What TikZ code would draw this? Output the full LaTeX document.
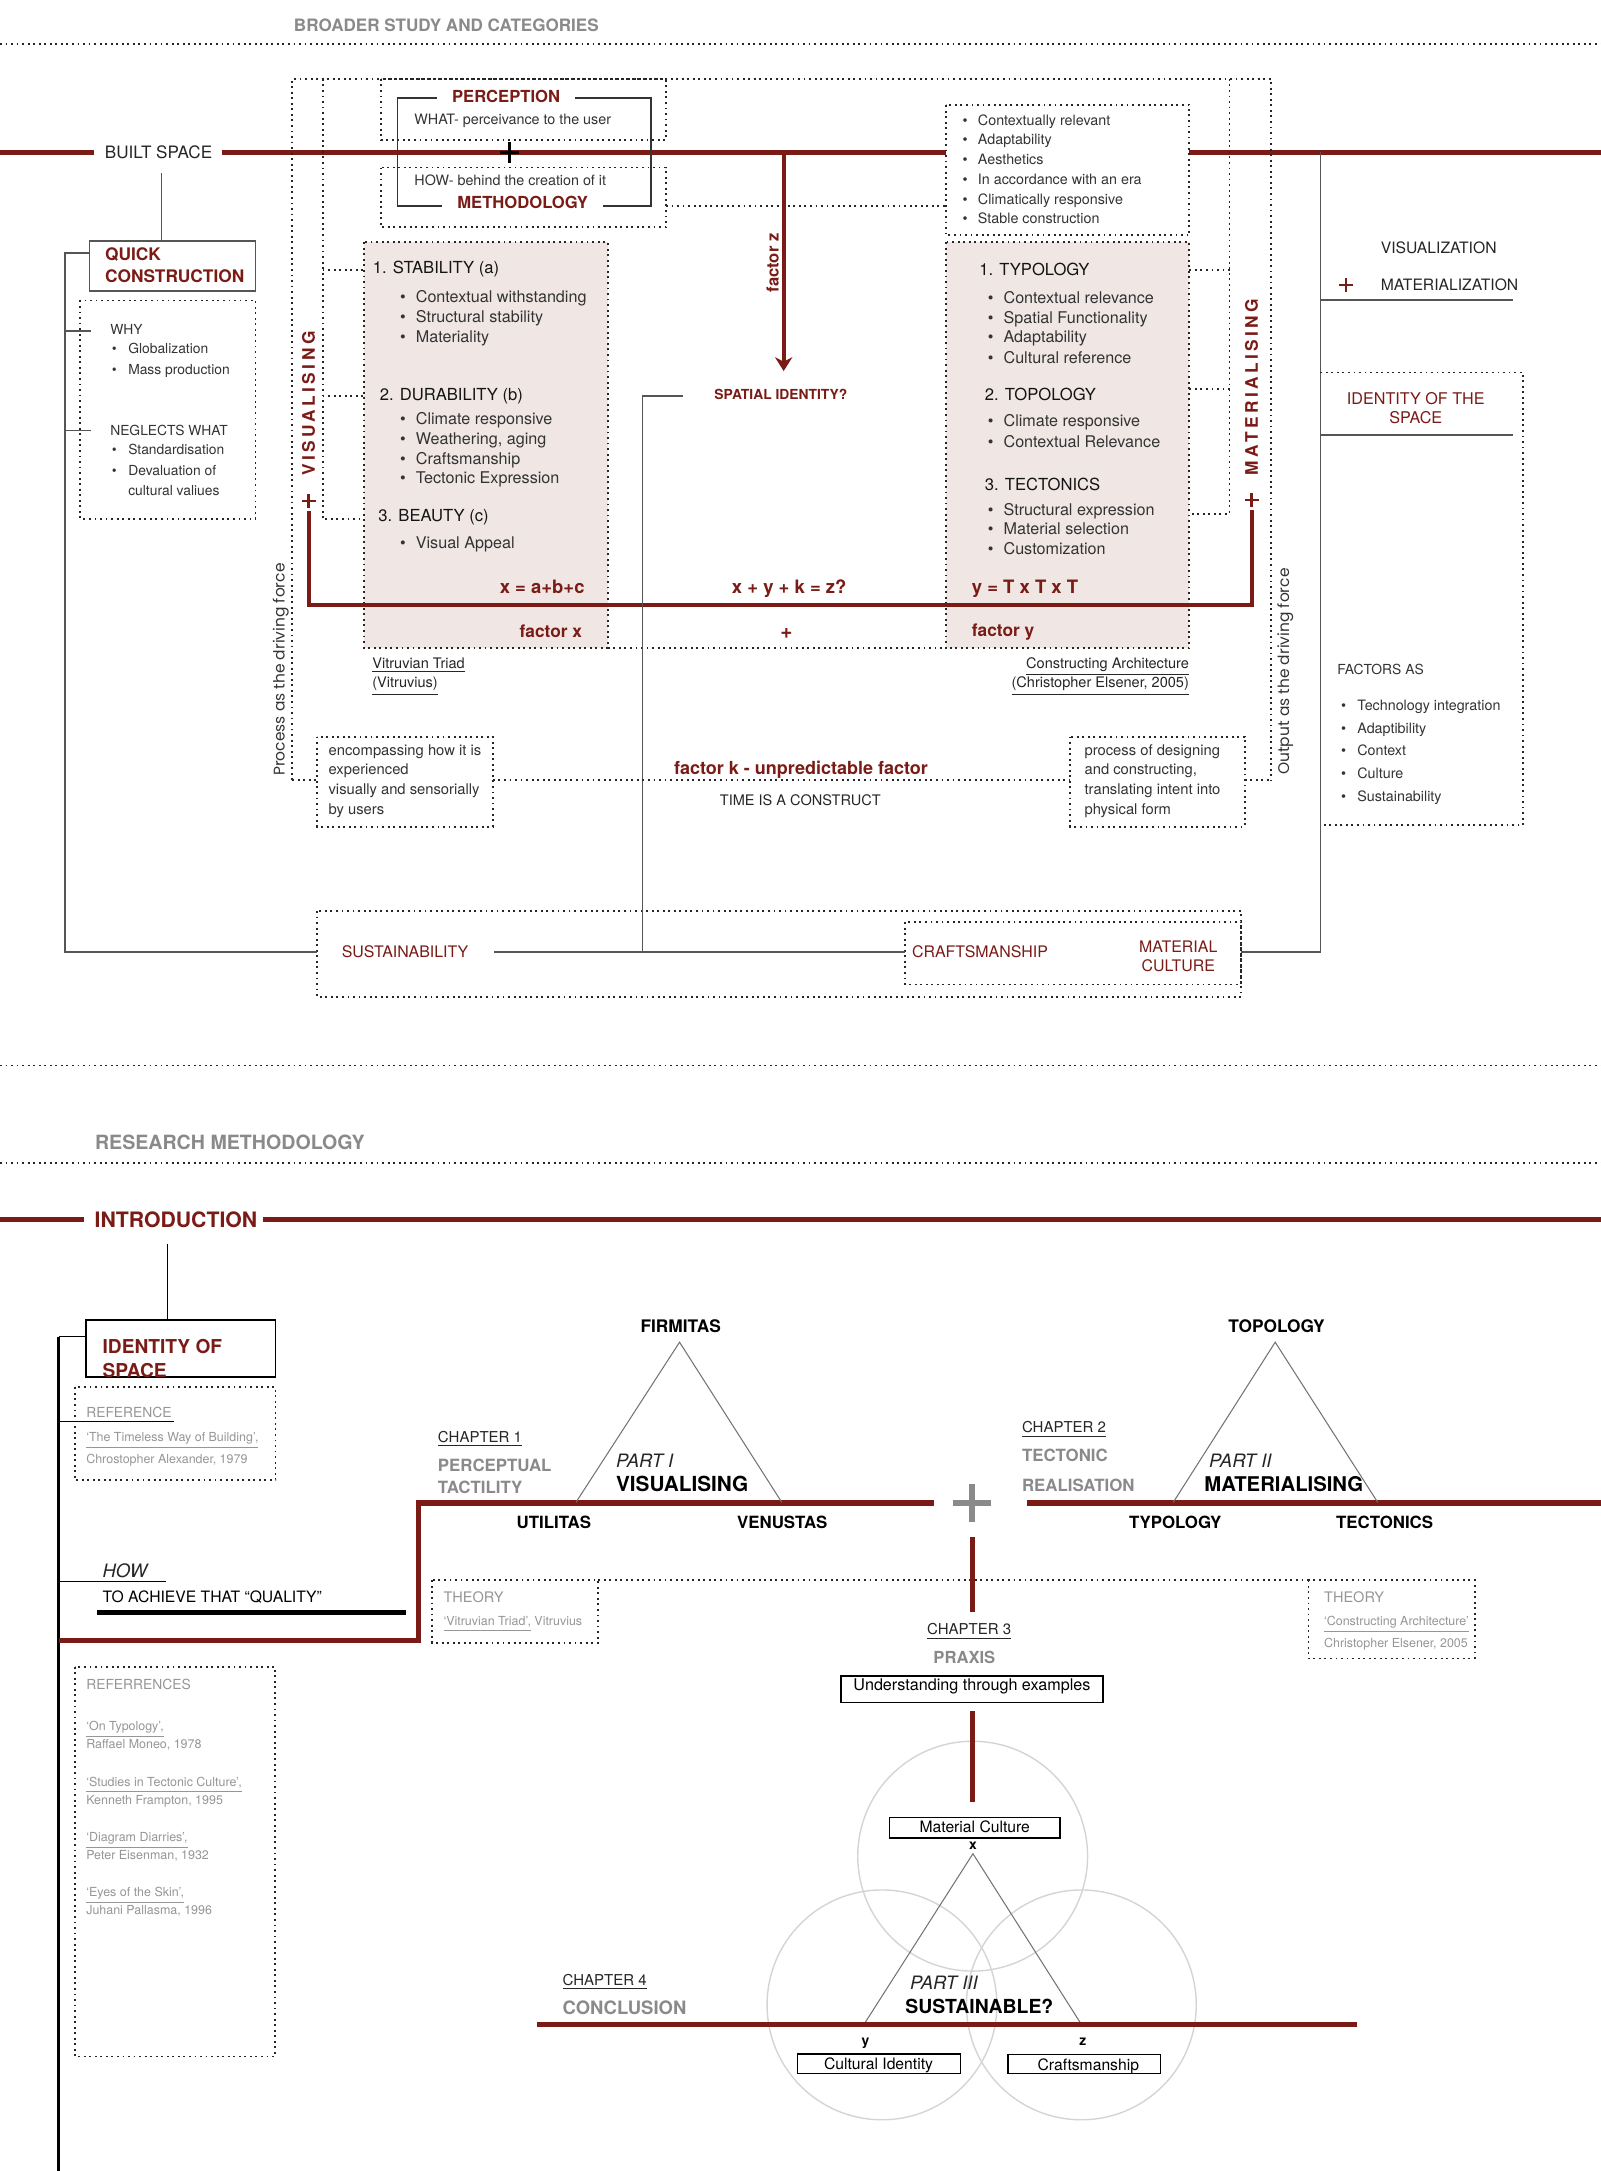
\documentclass[tikz,border=0pt]{standalone}
\usepackage{fontspec}
\setmainfont{TeX Gyre Heros}
\newfontfamily\geofont{Poppins}
\usetikzlibrary{arrows.meta}
\definecolor{dred}{RGB}{122,27,22}
\definecolor{pinkf}{RGB}{240,231,229}
\definecolor{gtitle}{RGB}{138,138,138}
\definecolor{gref}{RGB}{150,150,150}
\definecolor{lgrey}{RGB}{85,85,85}
\definecolor{cgrey}{RGB}{212,212,212}
\newcommand\fsz[1]{\fontsize{#1}{#1}\selectfont}
\newcommand\bitem[6]{\node[#1] (#2b) at (#3,#5) {•};\node[#1,anchor=west] (#2) at (#4,#5) {#6};}
\tikzset{
  sz/.style={text height={0.72*#1pt}, text depth=0pt},
  dots/.style={draw=black!85,line width=0.8pt,dash pattern=on 0.8pt off 1.6pt},
  redln/.style={draw=dred,line width=2.2pt},
  redlp/.style={draw=dred,line width=1.8pt},
  thinln/.style={draw=lgrey,line width=0.7pt},
  blk/.style={draw=black,line width=0.7pt},
  tri/.style={draw=black!55,line width=0.45pt},
  circ/.style={draw=cgrey,line width=0.6pt},
  bodyt/.style={font={\fsz{7}}, sz=7, text=black!80},
  headt/.style={font={\fsz{7.2}}, sz=7.2, text=black!92},
  smt/.style={font={\fsz{6.2}}, sz=6.2, text=black!80},
  wht/.style={font={\fsz{6}}, sz=6, text=black!80},
  redb/.style={font={\fsz{#1}\bfseries}, sz=#1, text=dred},
  redr/.style={font={\fsz{#1}}, sz=#1, text=dred},
  blkb/.style={font={\fsz{#1}\bfseries}, sz=#1, text=black},
  blkr/.style={font={\fsz{#1}}, sz=#1, text=black!85},
  gryb/.style={font={\fsz{#1}\bfseries}, sz=#1, text=gtitle},
  refr/.style={font={\fsz{#1}}, sz=#1, text=gref},
  itl/.style={font={\fsz{#1}\itshape}, sz=#1, text=black!85},
  geot/.style={font={\geofont\fsz{#1}}, sz=#1, text=black!80},
}
\begin{document}
\begin{tikzpicture}[x=0.6pt,y=-0.6pt,every node/.style={inner sep=0pt}]
\useasboundingbox (0,0) rectangle (1156,1568);
\fill[white] (0,0) rectangle (1156,1568);

% ================= TOP SECTION =================
\node[gryb=7.4,anchor=west] (ttl1) at (212,18.5) {BROADER STUDY AND CATEGORIES};
\draw[dots] (0,31.7) -- (1156,31.7);

% built space red line
\node[blkr=7.4] (built) at (114.5,110) {BUILT SPACE};
\coordinate (bsL) at (0,110); \coordinate (bsA) at (68,110);
\coordinate (bsB) at (160,110); \coordinate (bsR) at (1156,110);
\draw[redln] (bsL) -- (bsA);
\draw[redln] (bsB) -- (bsR);

% big dotted frame
\draw[dots] (211,563.6) -- (211,57) -- (918,57) -- (918,563.6);
\draw[dots] (233,57) -- (233,375) -- (263,375);
\draw[dots] (233,195) -- (263,195);
\draw[dots] (233,286) -- (263,286);
\draw[dots] (888,57) -- (888,371) -- (859,371);
\draw[dots] (859,195) -- (888,195);
\draw[dots] (859,281) -- (888,281);

% perception / methodology
\draw[dots] (275,57) rectangle (481,101);
\draw[dots] (275,121) rectangle (481,164);
\draw[dots] (481,149) -- (683,149);
\draw[draw=black!80,line width=0.7pt] (287,71) rectangle (470,149);
\node[redb=7.2,fill=white,inner xsep=6.5pt] (perc) at (365.5,70) {PERCEPTION};
\node[redb=7.2,fill=white,inner xsep=6.5pt] (meth) at (377.5,146.5) {METHODOLOGY};
\node[smt,anchor=west] (what) at (299,86) {WHAT- perceivance to the user};
\node[smt,anchor=west] (how) at (299,130.6) {HOW- behind the creation of it};
\draw[black,line width=1.5pt] (361,110) -- (375,110) (368,102.5) -- (368,118);

% pink boxes and list box
\draw[dots,fill=pinkf] (263,175) rectangle (439,468);
\draw[dots,fill=pinkf] (683,175) rectangle (859,468);
\draw[dots,fill=white] (683,76) rectangle (859,170);
\draw[dots] (439,468) -- (683,468);

% list box
\bitem{smt}{l1}{697}{706}{86.7}{Contextually relevant}
\bitem{smt}{l2}{697}{706}{101}{Adaptability}
\bitem{smt}{l3}{697}{706}{115.4}{Aesthetics}
\bitem{smt}{l4}{697}{706}{129.6}{In accordance with an era}
\bitem{smt}{l5}{697}{706}{143.8}{Climatically responsive}
\bitem{smt}{l6}{697}{706}{158}{Stable construction}

% left pink content
\node[headt,anchor=west] (stab) at (269,193.5) {1. STABILITY (a)};
\bitem{bodyt}{s1}{291}{300}{214}{Contextual withstanding}
\bitem{bodyt}{s2}{291}{300}{228.6}{Structural stability}
\bitem{bodyt}{s3}{291}{300}{243}{Materiality}
\node[headt,anchor=west] (dura) at (274,285.2) {2. DURABILITY (b)};
\bitem{bodyt}{d1}{291}{300}{302.5}{Climate responsive}
\bitem{bodyt}{d2}{291}{300}{317}{Weathering, aging}
\bitem{bodyt}{d3}{291}{300}{331}{Craftsmanship}
\bitem{bodyt}{d4}{291}{300}{345.3}{Tectonic Expression}
\node[headt,anchor=west] (beau) at (273,372.5) {3. BEAUTY (c)};
\bitem{bodyt}{b1}{291}{300}{391.7}{Visual Appeal}

% right pink content
\node[headt,anchor=west] (typo) at (707,194.5) {1. TYPOLOGY};
\bitem{bodyt}{t1}{715.5}{724.5}{215}{Contextual relevance}
\bitem{bodyt}{t2}{715.5}{724.5}{229.5}{Spatial Functionality}
\bitem{bodyt}{t3}{715.5}{724.5}{243.5}{Adaptability}
\bitem{bodyt}{t4}{715.5}{724.5}{258}{Cultural reference}
\node[headt,anchor=west] (topo) at (711,285) {2. TOPOLOGY};
\bitem{bodyt}{p1}{715.5}{724.5}{304}{Climate responsive}
\bitem{bodyt}{p2}{715.5}{724.5}{318.7}{Contextual Relevance}
\node[headt,anchor=west] (tect) at (711,350) {3. TECTONICS};
\bitem{bodyt}{c1}{715.5}{724.5}{368}{Structural expression}
\bitem{bodyt}{c2}{715.5}{724.5}{382}{Material selection}
\bitem{bodyt}{c3}{715.5}{724.5}{396}{Customization}

% red loop
\node[font={\fsz{7.5}\bfseries\addfontfeatures{LetterSpace=20}},sz=7.5,text=dred,rotate=90] (vis) at (223,291.5) {VISUALISING};
\node[font={\fsz{7.5}\bfseries\addfontfeatures{LetterSpace=20}},sz=7.5,text=dred,rotate=90] (mat) at (904,279.5) {MATERIALISING};
\draw[dred,line width=1.1pt] (218,362) -- (228,362) (223,357) -- (223,367);
\draw[dred,line width=1.1pt] (899,361) -- (909,361) (904,356) -- (904,366);
\coordinate (lpA) at (223,369); \coordinate (lpB) at (223,437);
\coordinate (lpC) at (904,437); \coordinate (lpD) at (904,368);
\draw[redlp] (lpA) -- (lpB) -- (lpC) -- (lpD);

% factor z arrow
\coordinate (fzA) at (566,110); \coordinate (fzB) at (566,268);
\draw[redlp,-{Stealth[length=6pt,width=7.5pt]}] (fzA) -- (fzB);
\node[redb=7.2,rotate=90] (fz) at (558,190) {factor z};
\node[redb=6] (spat) at (564,285) {SPATIAL IDENTITY?};
\coordinate (spA) at (493,286); \coordinate (spB) at (464,286); \coordinate (spC) at (464,687.6);
\draw[thinln] (spA) -- (spB) -- (spC);

% equations
\node[redb=8,anchor=east] (eqx) at (422.5,424) {x = a+b+c};
\node[redb=7.5,anchor=east] (fx) at (420.7,456) {factor x};
\node[redb=8] (eqz) at (570,424) {x + y + k = z?};
\node[redb=9] (plz) at (568,456) {+};
\node[redb=8,anchor=west] (eqy) at (701.6,424) {y = T x T x T};
\node[redb=7.5,anchor=west] (fy) at (701.6,455) {factor y};

% references below pink boxes
\node[blkr=6.3,anchor=west] (vt1) at (268.6,479) {\underline{Vitruvian Triad}};
\node[blkr=6.3,anchor=west] (vt2) at (268.6,493) {\underline{(Vitruvius)}};
\node[blkr=6.3,anchor=east] (ca1) at (859,479) {\underline{Constructing Architecture}};
\node[blkr=6.3,anchor=east] (ca2) at (859,493) {\underline{(Christopher Elsener, 2005)}};

% driving force labels
\node[geot=6.7,rotate=90] (proc) at (201.5,483.6) {Process as the driving force};
\node[geot=6.7,rotate=90] (outp) at (927,485) {Output as the driving force};

% encompassing / process boxes
\draw[dots] (229,532) rectangle (356,597);
\node[smt,font={\fsz{6.4}},anchor=west] (e1) at (237,542) {encompassing how it is};
\node[smt,font={\fsz{6.4}},anchor=west] (e2) at (237,556) {experienced};
\node[smt,font={\fsz{6.4}},anchor=west] (e3) at (237,570.3) {visually and sensorially};
\node[smt,font={\fsz{6.4}},anchor=west] (e4) at (237,584.8) {by users};
\draw[dots] (773,532) rectangle (899,597);
\node[smt,font={\fsz{6.4}},anchor=west] (q1) at (783,542) {process of designing};
\node[smt,font={\fsz{6.4}},anchor=west] (q2) at (783,556) {and constructing,};
\node[smt,font={\fsz{6.4}},anchor=west] (q3) at (783,570.3) {translating intent into};
\node[smt,font={\fsz{6.4}},anchor=west] (q4) at (783,584.8) {physical form};
\draw[dots] (211,563.6) -- (229,563.6);
\draw[dots] (356,563.6) -- (773,563.6);
\draw[dots] (899,563.6) -- (918,563.6);
\node[redb=7.8] (fk) at (578.5,554.4) {factor k - unpredictable factor};
\node[blkr=6.3] (time) at (578,578) {TIME IS A CONSTRUCT};

% right column
\coordinate (rcA) at (953.6,110); \coordinate (rcB) at (953.6,687.6); \coordinate (rcC) at (896.5,687.6);
\draw[thinln] (rcA) -- (rcB) -- (rcC);
\node[blkr=6.8,anchor=west] (vz) at (997,179) {VISUALIZATION};
\node[blkr=6.8,anchor=west] (mz) at (997,205.5) {MATERIALIZATION};
\draw[dred,line width=0.9pt] (967,206) -- (977,206) (972,201) -- (972,211);
\draw[thinln] (953.6,216.8) -- (1093,216.8);
\draw[dots] (953.6,269) -- (1100,269) -- (1100,596) -- (953.6,596);
\node[redr=7] (ids1) at (1022.5,287.8) {IDENTITY OF THE};
\node[redr=7] (ids2) at (1022.5,301.7) {SPACE};
\draw[thinln] (953.6,314.4) -- (1093,314.4);
\node[wht,anchor=west] (fas) at (965.5,483.4) {FACTORS AS};
\bitem{smt}{f1}{970.5}{980}{509.4}{Technology integration}
\bitem{smt}{f2}{970.5}{980}{525.8}{Adaptibility}
\bitem{smt}{f3}{970.5}{980}{542}{Context}
\bitem{smt}{f4}{970.5}{980}{558.6}{Culture}
\bitem{smt}{f5}{970.5}{980}{575.5}{Sustainability}

% sustainability / craftsmanship
\draw[dots] (229,658) rectangle (896.5,720);
\draw[dots] (653.6,666) rectangle (896.5,711);
\node[redr=6.9,anchor=west] (sust) at (246.5,687.6) {SUSTAINABILITY};
\node[redr=6.9,anchor=west] (craf) at (658.4,687.6) {CRAFTSMANSHIP};
\node[redr=6.9] (mc1) at (851,683.5) {MATERIAL};
\node[redr=6.9] (mc2) at (851,697.2) {CULTURE};
\coordinate (suA) at (357,687.6); \coordinate (suB) at (653.6,687.6);
\draw[thinln] (suA) -- (suB);

% left column
\draw[thinln] (64.6,174) rectangle (184.5,210);
\node[redb=7.5,anchor=west] (qc1) at (75.6,183.8) {QUICK};
\node[redb=7.5,anchor=west] (qc2) at (75.6,199.5) {CONSTRUCTION};
\coordinate (qA) at (116.6,125); \coordinate (qB) at (116.6,174);
\draw[thinln] (qA) -- (qB);
\coordinate (qC) at (64.6,182.6); \coordinate (qD) at (47,182.6); \coordinate (qE) at (47,687.6); \coordinate (qF) at (229,687.6);
\draw[thinln] (qC) -- (qD) -- (qE) -- (qF);
\draw[thinln] (47,239) -- (66,239);
\draw[thinln] (47,311) -- (66,311);
\draw[dots] (58,217) rectangle (184.5,374.7);
\node[wht,anchor=west] (why) at (79.3,237.8) {WHY};
\bitem{wht}{w1}{82.5}{92.3}{252}{Globalization}
\bitem{wht}{w2}{82.5}{92.3}{266.7}{Mass production}
\node[wht,anchor=west] (negl) at (79.3,310.6) {NEGLECTS WHAT};
\bitem{wht}{n1}{82.5}{92.3}{325}{Standardisation}
\bitem{wht}{n2}{82.5}{92.3}{340}{Devaluation of}
\node[wht,anchor=west] (n3) at (92.3,354) {cultural valiues};

% ================= SEPARATOR =================
\draw[dots] (0,769.5) -- (1156,769.5);
\node[gryb=8.5,anchor=west] (ttl2) at (68.3,825) {RESEARCH METHODOLOGY};
\draw[dots] (0,840) -- (1156,840);

% ================= BOTTOM SECTION =================
\node[redb=9.2,anchor=west] (intro) at (68,881) {INTRODUCTION};
\coordinate (inL) at (0,881); \coordinate (inA) at (61,881);
\coordinate (inB) at (190,881); \coordinate (inR) at (1156,881);
\draw[redln] (inL) -- (inA);
\draw[redln] (inB) -- (inR);

\coordinate (idA) at (121,898.3); \coordinate (idB) at (121,953.3);
\draw[blk] (idA) -- (idB);
\draw[blk] (62,953.3) rectangle (199,994.7);
\node[redb=8.3,anchor=west] (ids3) at (73.8,972.3) {IDENTITY OF};
\node[redb=8.3,anchor=west] (ids4) at (73.8,989.8) {SPACE};
\draw[black,line width=1.2pt] (42.4,965.3) -- (42.4,1568);
\draw[blk] (42.4,965.3) -- (62,965.3);

\draw[dots] (54,1002) rectangle (199,1069);
\node[refr=6,anchor=west] (refa) at (62,1020.5) {REFERENCE};
\draw[black,line width=0.5pt] (42.4,1026.8) -- (126,1026.8);
\node[refr=5.4,anchor=west] (refb) at (62,1037.6) {\underline{‘The Timeless Way of Building’,}};
\node[refr=5.4,anchor=west] (refc) at (62,1053.8) {Chrostopher Alexander, 1979};

\node[itl=8,anchor=west] (howq) at (73.8,1134.3) {HOW};
\draw[black,line width=0.6pt] (42.4,1142.3) -- (120,1142.3);
\node[blkr=6.8,text=black,anchor=west] (achv) at (73.8,1153) {TO ACHIEVE THAT “QUALITY”};
\draw[black,line width=2pt] (70,1164.8) -- (293,1164.8);

\coordinate (rpA) at (42.4,1185); \coordinate (rpB) at (302,1185);
\coordinate (rpC) at (302,1085.5); \coordinate (rpD) at (674.7,1085.5);
\draw[redln] (rpA) -- (rpB) -- (rpC) -- (rpD);
\coordinate (rpE) at (742,1085.5); \coordinate (rpF) at (1156,1085.5);
\draw[redln] (rpE) -- (rpF);
\draw[gtitle,line width=2.3pt] (688,1085.5) -- (716,1085.5) (702,1072) -- (702,1099.5);

% triangle 1
\draw[tri] (416,1085) -- (490.8,969.4) -- (564.6,1085);
\node[blkb=7.5] (firm) at (491.6,958) {FIRMITAS};
\node[itl=8,anchor=west] (p1t) at (444.6,1055) {PART I};
\node[blkb=9,anchor=west] (p1v) at (444.6,1071.8) {VISUALISING};
\node[blkb=7.3] (util) at (400,1099.5) {UTILITAS};
\node[blkb=7.3] (venu) at (565,1099.5) {VENUSTAS};
\node[blkr=6.5,anchor=west] (ch1) at (316,1037.6) {\underline{CHAPTER 1}};
\node[gryb=7.3,anchor=west] (ch1a) at (316,1058.3) {PERCEPTUAL};
\node[gryb=7.3,anchor=west] (ch1b) at (316,1074) {TACTILITY};

% triangle 2
\draw[tri] (847.4,1085) -- (921,969.4) -- (995,1085);
\node[blkb=7.5] (topl) at (922,958) {TOPOLOGY};
\node[itl=8,anchor=west] (p2t) at (873,1055) {PART II};
\node[blkb=8.8,anchor=west] (p2m) at (869.5,1071.8) {MATERIALISING};
\node[blkb=7.3] (typl) at (848.8,1099.5) {TYPOLOGY};
\node[blkb=7.3] (tecl) at (1000,1099.5) {TECTONICS};
\node[blkr=6.5,anchor=west] (ch2) at (737.8,1030.8) {\underline{CHAPTER 2}};
\node[gryb=7.3,anchor=west] (ch2a) at (737.8,1051.3) {TECTONIC};
\node[gryb=7.3,anchor=west] (ch2b) at (737.8,1073) {REALISATION};

% theory boxes
\draw[dots] (312,1141.4) rectangle (432,1186.4);
\node[refr=6.3,anchor=west] (th1) at (320,1153.4) {THEORY};
\node[refr=5.4,anchor=west] (th1b) at (320,1170.8) {\underline{‘Vitruvian Triad’,} Vitruvius};
\draw[dots] (432,1141.4) -- (945,1141.4);
\draw[dots] (945,1141.4) rectangle (1065,1197.8);
\node[refr=6.3,anchor=west] (th2) at (956,1153.4) {THEORY};
\node[refr=5.4,anchor=west] (th2b) at (956,1170.8) {\underline{‘Constructing Architecture’}};
\node[refr=5.4,anchor=west] (th2c) at (956,1187) {Christopher Elsener, 2005};

% chapter 3
\coordinate (c3A) at (702.4,1110); \coordinate (c3B) at (702.4,1164.3);
\draw[redln] (c3A) -- (c3B);
\node[blkr=6.5] (ch3) at (700,1176.6) {\underline{CHAPTER 3}};
\node[gryb=7.2] (prax) at (696.5,1197.2) {PRAXIS};
\draw[black,line width=0.6pt] (607.5,1210.5) rectangle (796.5,1229.6);
\node[blkr=7,text=black] (und) at (702,1216.8) {Understanding through examples};
\coordinate (c3C) at (702.4,1235.8); \coordinate (c3D) at (702.4,1301.6);

% circles and triangle 3
\draw[circ] (702.5,1340.6) circle [radius=83];
\draw[circ] (637,1448) circle [radius=83];
\draw[circ] (781,1448) circle [radius=83];
\draw[redln] (c3C) -- (c3D);
\draw[tri] (625,1460.5) -- (702.7,1338.8) -- (780,1460.5);
\draw[black,line width=0.6pt,fill=white] (642.6,1312.6) rectangle (765.5,1327.4);
\node[blkr=6.8,text=black] (matc) at (704,1319.6) {Material Culture};
\node[blkb=6] (xl) at (702.7,1332) {x};
\node[itl=8,anchor=west] (p3t) at (657,1432) {PART III};
\node[blkb=8.4,anchor=west] (p3s) at (653.6,1449.1) {SUSTAINABLE?};
\coordinate (cnA) at (387.5,1462); \coordinate (cnB) at (980,1462);
\draw[redln] (cnA) -- (cnB);
\node[blkr=6.5,anchor=west] (ch4) at (406,1429.8) {\underline{CHAPTER 4}};
\node[gryb=8,anchor=west] (conc) at (406,1450.5) {CONCLUSION};
\node[blkb=6] (yl) at (625,1474) {y};
\node[blkb=6] (zl) at (782,1473.4) {z};
\draw[black,line width=0.6pt] (576,1483.4) rectangle (693.5,1497.5);
\node[blkr=6.8,text=black] (culi) at (634.5,1490.6) {Cultural Identity};
\draw[black,line width=0.6pt] (728,1484) rectangle (838,1497.5);
\node[blkr=6.8,text=black] (crfs) at (786,1491) {Craftsmanship};

% references
\draw[dots] (54,1203.8) rectangle (198.5,1485.3);
\node[refr=6,anchor=west] (rr0) at (62,1216.4) {REFERRENCES};
\node[refr=5.4,anchor=west] (rr1) at (62,1246.7) {\underline{‘On Typology’,}};
\node[refr=5.4,anchor=west] (rr2) at (62,1259.9) {Raffael Moneo, 1978};
\node[refr=5.4,anchor=west] (rr3) at (62,1286.8) {\underline{‘Studies in Tectonic Culture’,}};
\node[refr=5.4,anchor=west] (rr4) at (62,1300.3) {Kenneth Frampton, 1995};
\node[refr=5.4,anchor=west] (rr5) at (62,1326.6) {\underline{‘Diagram Diarries’,}};
\node[refr=5.4,anchor=west] (rr6) at (62,1340) {Peter Eisenman, 1932};
\node[refr=5.4,anchor=west] (rr7) at (62,1366.7) {\underline{‘Eyes of the Skin’,}};
\node[refr=5.4,anchor=west] (rr8) at (62,1379.8) {Juhani Pallasma, 1996};
\end{tikzpicture}
\end{document}
